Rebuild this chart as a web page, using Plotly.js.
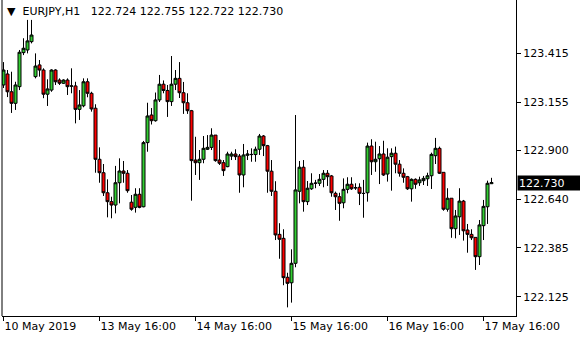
<!DOCTYPE html>
<html>
<head>
<meta charset="utf-8">
<script src="https://cdn.plot.ly/plotly-3.0.1.min.js"></script>
<style>html,body{margin:0;padding:0;background:#fff;}#chart{width:580px;height:340px;}</style>
</head>
<body>
<div id="chart"></div>
<script>
// EURJPY H1 candles, first bar = 10 May 2019 16:00
const opens = [123.246,123.304,123.210,123.149,123.237,123.417,123.431,123.475,123.290,123.352,
123.325,123.197,123.219,123.325,123.272,123.255,123.272,123.241,123.241,123.117,
123.136,123.263,123.202,123.123,122.853,122.782,122.676,122.629,122.611,122.729,
122.791,122.779,122.626,122.599,122.668,122.602,122.941,123.087,123.057,123.167,
123.250,123.217,123.158,123.250,123.281,123.205,123.152,123.110,122.849,122.835,
122.853,122.906,122.916,122.981,122.849,122.835,122.814,122.870,122.881,122.870,
122.770,122.874,122.879,122.878,122.906,122.976,122.925,122.790,122.684,122.456,
122.435,122.229,122.200,122.303,122.684,122.811,122.629,122.697,122.726,122.726,
122.747,122.779,122.765,122.673,122.655,122.623,122.694,122.721,122.703,122.705,
122.673,122.676,122.923,122.840,122.856,122.881,122.775,122.867,122.885,122.827,
122.779,122.761,122.697,122.747,122.729,122.740,122.750,122.766,122.872,122.911,
122.784,122.589,122.647,122.486,122.549,122.632,122.479,122.456,122.440,122.338,
122.502,122.602,122.724];
const highs = [123.367,123.325,123.316,123.263,123.431,123.493,123.590,123.590,123.413,123.378,
123.334,123.276,123.329,123.329,123.281,123.276,123.281,123.334,123.263,123.219,
123.281,123.281,123.210,123.144,122.916,122.828,122.747,122.655,122.818,122.858,
122.844,122.796,122.664,122.700,122.700,122.950,123.152,123.124,123.206,123.299,
123.270,123.246,123.399,123.325,123.367,123.262,123.202,123.114,122.972,122.902,
122.976,122.981,123.017,122.981,122.955,122.849,122.893,122.893,122.906,122.881,
122.934,122.902,122.911,122.920,122.987,122.981,122.929,122.849,122.737,122.515,
122.483,122.253,122.377,123.087,122.844,122.849,122.738,122.779,122.744,122.775,
122.796,122.796,122.770,122.682,122.676,122.752,122.758,122.758,122.726,122.726,
122.744,122.941,122.959,122.946,122.923,122.951,122.911,122.911,122.920,122.849,
122.805,122.765,122.752,122.752,122.761,122.765,122.782,122.888,122.966,122.920,
122.784,122.700,122.647,122.585,122.700,122.638,122.511,122.483,122.440,122.532,
122.638,122.740,122.755];
const lows = [123.230,123.182,123.098,123.114,123.219,123.404,123.413,123.466,123.281,123.290,
123.176,123.135,123.210,123.246,123.246,123.251,123.193,123.202,123.043,123.061,
123.128,123.181,123.105,122.782,122.729,122.659,122.546,122.541,122.567,122.620,
122.729,122.676,122.581,122.571,122.594,122.599,122.893,123.037,123.052,123.156,
123.202,123.077,123.135,123.219,123.177,123.093,123.093,122.634,122.770,122.744,
122.832,122.902,122.902,122.840,122.823,122.765,122.811,122.849,122.849,122.676,
122.705,122.849,122.840,122.840,122.876,122.870,122.676,122.659,122.426,122.327,
122.187,122.070,122.095,122.282,122.620,122.576,122.611,122.691,122.700,122.712,
122.705,122.712,122.655,122.585,122.528,122.594,122.673,122.691,122.691,122.611,
122.544,122.629,122.770,122.787,122.722,122.765,122.735,122.687,122.779,122.761,
122.729,122.691,122.629,122.697,122.712,122.717,122.712,122.696,122.828,122.775,
122.581,122.576,122.438,122.435,122.453,122.423,122.359,122.426,122.268,122.294,
122.426,122.511,122.722];
const closes = [123.325,123.210,123.149,123.246,123.419,123.440,123.479,123.510,123.346,123.325,
123.197,123.225,123.325,123.263,123.255,123.272,123.237,123.240,123.117,123.140,
123.263,123.202,123.119,122.853,122.782,122.676,122.629,122.611,122.729,122.791,
122.779,122.687,122.589,122.668,122.599,122.941,123.082,123.057,123.167,123.250,
123.217,123.158,123.250,123.281,123.205,123.152,123.110,122.846,122.835,122.853,
122.911,122.916,122.981,122.846,122.832,122.793,122.881,122.881,122.867,122.770,
122.876,122.881,122.878,122.906,122.976,122.925,122.790,122.684,122.453,122.430,
122.227,122.197,122.303,122.691,122.811,122.629,122.700,122.726,122.727,122.747,
122.779,122.761,122.676,122.655,122.620,122.694,122.721,122.697,122.702,122.673,
122.672,122.923,122.840,122.853,122.881,122.770,122.864,122.885,122.827,122.779,
122.758,122.697,122.747,122.721,122.744,122.752,122.766,122.879,122.911,122.779,
122.589,122.647,122.486,122.553,122.632,122.475,122.456,122.438,122.338,122.506,
122.604,122.726,122.730];

const tickBars = [0, 24, 48, 72, 96, 120];
const tickLabels = ['10 May 2019', '13 May 16:00', '14 May 16:00', '15 May 16:00', '16 May 16:00', '17 May 16:00'];
const priceTicks = [123.415, 123.155, 122.900, 122.640, 122.385, 122.125];
const priceTickLabels = ['123.415', '123.155', '122.900', '122.640', '122.385', '122.125'];
const symbol = 'EURJPY,H1';
const lastPrice = 122.730;

const bars = opens.map((_, i) => i);
const n = closes.length;
const header = '\u25BC\u00a0\u00a0' + symbol + '\u00a0\u00a0\u00a0' +
  [opens[n-1], highs[n-1], lows[n-1], closes[n-1]].map(v => v.toFixed(3)).join(' ');

const font = {family: 'DejaVu Sans, Verdana, sans-serif', size: 11, color: '#000'};

const trace = {
  type: 'candlestick',
  x: bars, open: opens, high: highs, low: lows, close: closes,
  increasing: {line: {color: '#000', width: 1}, fillcolor: '#32cd32'},
  decreasing: {line: {color: '#000', width: 1}, fillcolor: '#ff0000'},
  whiskerwidth: 0,
  hoverinfo: 'skip'
};

const layout = {
  width: 580, height: 340,
  margin: {l: 2, r: 64, t: 0, b: 24, pad: 0},
  paper_bgcolor: '#fff', plot_bgcolor: '#fff',
  showlegend: false,
  boxmode: 'overlay',
  boxgap: 0.25,
  boxgroupgap: 0,
  font: font,
  xaxis: {
    type: 'linear', range: [-0.375, 128.125], fixedrange: true,
    rangeslider: {visible: false},
    showgrid: false, zeroline: false,
    showline: true, linecolor: '#000', linewidth: 1,
    ticks: 'outside', ticklen: 4, tickcolor: '#000', tickwidth: 1,
    tickmode: 'array', tickvals: tickBars, ticktext: tickLabels,
    ticklabelposition: 'outside right',
    tickfont: font
  },
  yaxis: {
    side: 'right', range: [122.0243, 123.6953], fixedrange: true,
    showgrid: false, zeroline: false,
    showline: true, linecolor: '#000', linewidth: 1,
    ticks: 'outside', ticklen: 4, tickcolor: '#000', tickwidth: 1,
    tickmode: 'array', tickvals: priceTicks, ticktext: priceTickLabels,
    tickfont: font
  },
  shapes: [
    {type: 'line', xref: 'paper', yref: 'paper', x0: 0, x1: 0, y0: 0, y1: 1, line: {color: '#000', width: 1}}
  ],
  annotations: [
    {xref: 'paper', yref: 'paper', x: 0, y: 1, xanchor: 'left', yanchor: 'top',
     xshift: 3, yshift: -3, showarrow: false, text: header, font: font},
    {xref: 'paper', yref: 'y', x: 1, y: lastPrice, xanchor: 'left', yanchor: 'middle',
     xshift: 1, showarrow: false, text: lastPrice.toFixed(3),
     font: {family: font.family, size: 11, color: '#fff'},
     bgcolor: '#000', borderpad: 1, width: 60, height: 12, align: 'left'}
  ]
};

Plotly.newPlot('chart', [trace], layout, {staticPlot: true, displayModeBar: false});
</script>
</body>
</html>
